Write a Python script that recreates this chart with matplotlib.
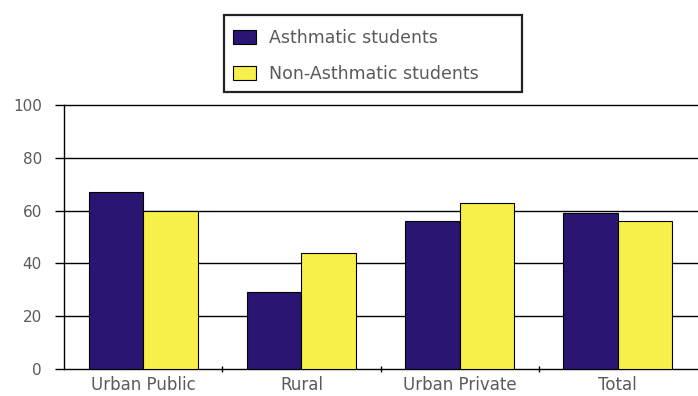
import matplotlib
matplotlib.use("Agg")
import matplotlib.pyplot as plt
import numpy as np
from matplotlib.patches import Patch, Rectangle

categories = ["Urban Public", "Rural", "Urban Private", "Total"]
asthmatic = [67, 29, 56, 59]
non_asthmatic = [60, 44, 63, 56]
series_names = ["Asthmatic students", "Non-Asthmatic students"]
yticks = [0, 20, 40, 60, 80, 100]

c_dark = "#2b1573"
c_yel = "#f7f04a"
txt = "#5a5a5a"

plt.rcParams["font.family"] = ["DejaVu Sans"]
W, H = 698, 396
fig = plt.figure(figsize=(W/100, H/100), dpi=100)
ax = fig.add_axes([64/W, 1-369/H, 633/W, (369-105)/H])

x = np.arange(len(categories))
w = 0.345
ax.bar(x - w/2, asthmatic, w, color=c_dark, edgecolor="black", linewidth=0.8, zorder=3)
ax.bar(x + w/2, non_asthmatic, w, color=c_yel, edgecolor="black", linewidth=0.8, zorder=3)

ax.set_xlim(-0.5, len(categories) - 0.5)
ax.set_ylim(0, 100)
ax.set_yticks(yticks)
ax.set_yticklabels([str(v) for v in yticks])
for v in yticks[1:]:
    ax.axhline(v, color="black", linewidth=1.0, zorder=1, clip_on=False)

ax.set_xticks(x)
ax.set_xticklabels(categories)
ax.tick_params(axis="x", which="major", length=0, pad=5, labelsize=12, labelcolor=txt)
ax.set_xticks(x[:-1] + 0.5, minor=True)
ax.tick_params(axis="x", which="minor", length=4, width=1, direction="inout", color="black")
ax.tick_params(axis="y", length=6.5, width=1, pad=9.5, labelsize=11, labelcolor=txt, color="black")

for s in ["top", "right"]:
    ax.spines[s].set_visible(False)
ax.spines["left"].set_linewidth(1.0)
ax.spines["bottom"].set_linewidth(1.0)

# legend frame
fig.patches.append(Rectangle((224/W, 1-92/H), (522-224)/W, (92-15)/H,
                             transform=fig.transFigure, facecolor="white",
                             edgecolor="#222222", linewidth=1.6, zorder=0))

handles = [Patch(facecolor=c_dark, edgecolor="black", linewidth=0.8),
           Patch(facecolor=c_yel, edgecolor="black", linewidth=0.8)]
leg = fig.legend(handles, series_names, loc="center left",
                 bbox_to_anchor=(233/W, 1-56/H), frameon=False,
                 fontsize=12.5, handlelength=1.3, handleheight=0.85, labelspacing=1.0,
                 borderpad=0.0, handletextpad=0.75, borderaxespad=0)
for t in leg.get_texts():
    t.set_color(txt)

fig.savefig("out.png", dpi=100)
